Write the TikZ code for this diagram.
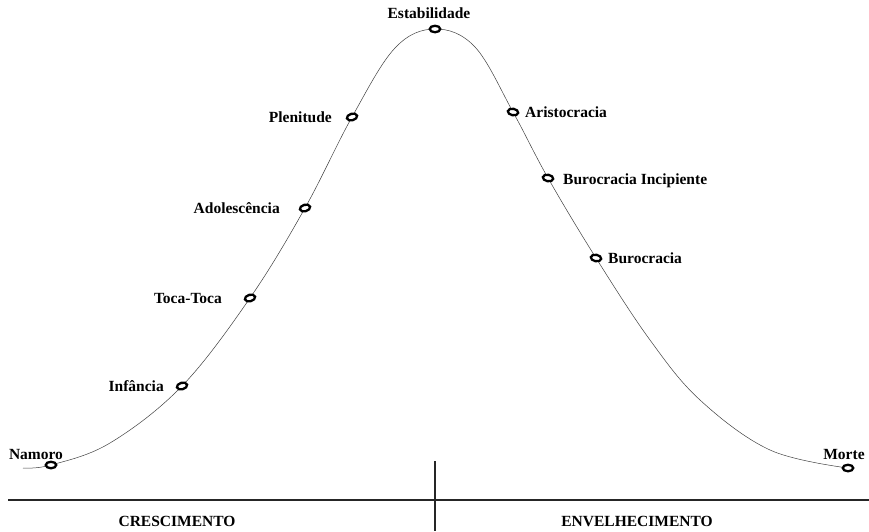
\documentclass[tikz,border=0pt]{standalone}
\usepackage{fontspec}
\setmainfont{Liberation Serif}
\usetikzlibrary{shapes.geometric}
\begin{document}
\begin{tikzpicture}[x=1pt,y=-1pt,
  lbl/.style={font=\fontsize{15.5}{17}\selectfont\bfseries, inner sep=0pt},
  mk/.style={ellipse, draw=black, fill=white, line width=2.3pt, minimum width=10.5pt, minimum height=6.5pt, inner sep=0pt},
  curve/.style={draw=black!75, line width=0.5pt},
  axis/.style={draw=black!85, line width=2.2pt}]
\useasboundingbox (0,0) rectangle (869,531);
% curve
\draw[curve] plot[smooth, tension=0.6] coordinates {
 (23,468) (51,465) (110,443) (182,386) (250,298) (305,208) (352,117) (395,48) (435,29)
 (475,47) (513,112) (548,178) (596,258) (650,340) (700,400) (770,450) (848,468)};
% markers
\node[mk] (namoro) at (51,465) {};
\node[mk, rotate=15] (infancia) at (182,386) {};
\node[mk, rotate=15] (toca) at (250,298) {};
\node[mk, rotate=15] (adol) at (305,208) {};
\node[mk, rotate=15] (plen) at (352,117) {};
\node[mk] (estab) at (435,29) {};
\node[mk, rotate=-10] (arist) at (513,112) {};
\node[mk, rotate=-10] (buroi) at (548,178) {};
\node[mk, rotate=-10] (buro) at (596,258) {};
\node[mk] (morte) at (848,468) {};
% labels
\node[lbl, anchor=base] (tnamoro) at (36,459) {Namoro};
\node[lbl, anchor=base east] (tinf) at (164,391) {Infância};
\node[lbl, anchor=base east] (ttoca) at (222,303) {Toca-Toca};
\node[lbl, anchor=base east] (tadol) at (280,213) {Adolescência};
\node[lbl, anchor=base east] (tplen) at (332,122) {Plenitude};
\node[lbl, anchor=base] (testab) at (429,18) {Estabilidade};
\node[lbl, anchor=base west] (tarist) at (525,117) {Aristocracia};
\node[lbl, anchor=base west] (tburoi) at (563,184) {Burocracia Incipiente};
\node[lbl, anchor=base west] (tburo) at (608,263) {Burocracia};
\node[lbl, anchor=base] (tmorte) at (844,459) {Morte};
% axes
\coordinate (hl) at (8,500);
\coordinate (hr) at (869,500);
\coordinate (vt) at (435,461);
\coordinate (vb) at (435,531);
\draw[axis] (hl) -- (hr);
\draw[axis] (vt) -- (vb);
\node[lbl, anchor=base] (cres) at (177,526) {CRESCIMENTO};
\node[lbl, anchor=base] (env) at (637,526) {ENVELHECIMENTO};
\end{tikzpicture}
\end{document}
